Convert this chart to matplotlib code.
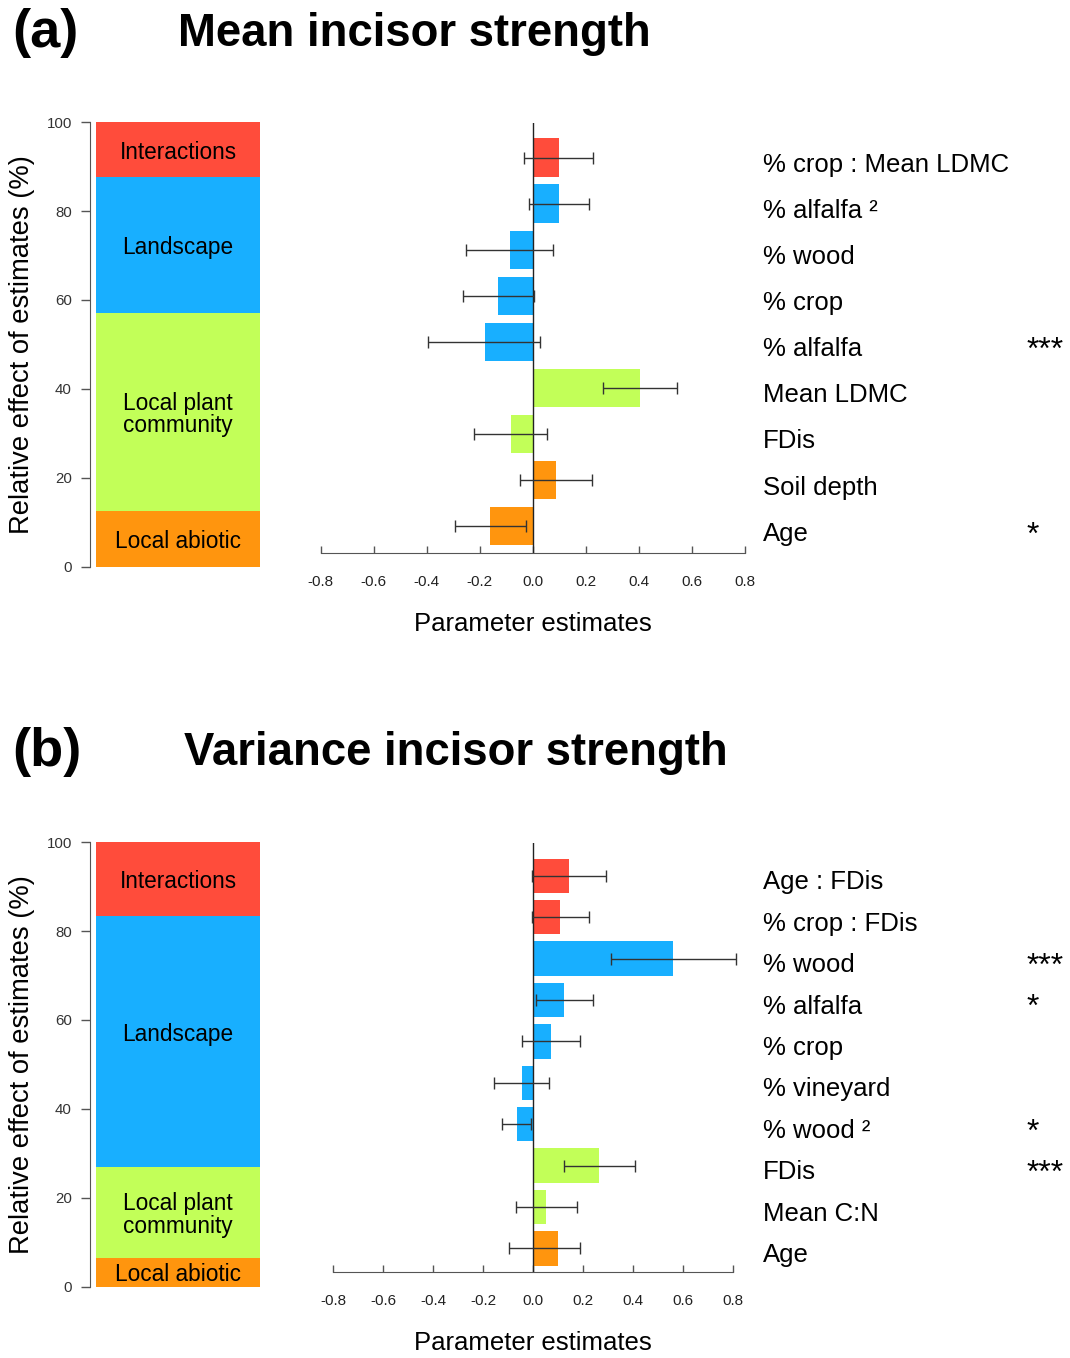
import matplotlib
matplotlib.use("Agg")
import matplotlib.pyplot as plt
import matplotlib.transforms as mtransforms
import numpy as np

plt.rcParams["font.family"] = ["Liberation Sans", "DejaVu Sans"]

W, H = 1070, 1358

# group colours
group_colors = {
    "Interactions": "#FF4C3B",
    "Landscape": "#18AFFF",
    "Local plant community": "#C2FF58",
    "Local abiotic": "#FF950E",
}
group_order = ["Local abiotic", "Local plant community", "Landscape", "Interactions"]
group_text = {
    "Interactions": "Interactions",
    "Landscape": "Landscape",
    "Local plant community": "Local plant\ncommunity",
    "Local abiotic": "Local abiotic",
}

# ---- panel (a): mean incisor strength (listed top to bottom) ----
a_share = [12.6, 44.4, 30.7, 12.3]  # abiotic, plant, landscape, interactions (%)
a_terms = ["% crop : Mean LDMC", "% alfalfa ²", "% wood", "% crop", "% alfalfa",
           "Mean LDMC", "FDis", "Soil depth", "Age"]
a_groups = ["Interactions", "Landscape", "Landscape", "Landscape", "Landscape",
            "Local plant community", "Local plant community",
            "Local abiotic", "Local abiotic"]
a_est = [0.097, 0.097, -0.088, -0.131, -0.182, 0.402, -0.083, 0.088, -0.161]
a_lo = [-0.035, -0.014, -0.251, -0.265, -0.394, 0.263, -0.222, -0.048, -0.295]
a_hi = [0.225, 0.211, 0.074, 0.005, 0.025, 0.543, 0.053, 0.222, -0.028]
a_sig = ["", "", "", "", "***", "", "", "", "*"]

# ---- panel (b): variance incisor strength ----
b_share = [6.4, 20.6, 56.5, 16.5]
b_terms = ["Age : FDis", "% crop : FDis", "% wood", "% alfalfa", "% crop",
           "% vineyard", "% wood ²", "FDis", "Mean C:N", "Age"]
b_groups = ["Interactions", "Interactions", "Landscape", "Landscape", "Landscape",
            "Landscape", "Landscape", "Local plant community",
            "Local plant community", "Local abiotic"]
b_est = [0.144, 0.107, 0.560, 0.126, 0.071, -0.043, -0.065, 0.263, 0.052, 0.099]
b_lo = [-0.004, -0.004, 0.311, 0.011, -0.045, -0.155, -0.123, 0.123, -0.067, -0.096]
b_hi = [0.294, 0.226, 0.815, 0.239, 0.188, 0.065, -0.009, 0.407, 0.175, 0.187]
b_sig = ["", "", "***", "*", "", "", "*", "***", "", ""]

x_ticks = [-0.8, -0.6, -0.4, -0.2, 0.0, 0.2, 0.4, 0.6, 0.8]


def box(x0, y0, x1, y1):
    return [x0 / W, 1 - y1 / H, (x1 - x0) / W, (y1 - y0) / H]


fig = plt.figure(figsize=(W / 100, H / 100), dpi=100)


def draw_panel(letter, title, top, share, terms, groups, est, lo, hi, sig,
               x_left, x_right, y_top, y_axis, ylim, label_y=None):
    # titles
    fig.text(12 / W, 1 - top / H, letter, fontsize=39, fontweight="bold",
             va="center", ha="left")
    fig.text((178 if letter == "(a)" else 184) / W, 1 - (top + 1) / H, title,
             fontsize=32.8, fontweight="bold", va="center", ha="left")

    # stacked relative-effect bar
    y0, y1 = y_top - 0.5, y_top + 443.8
    axl = fig.add_axes(box(96, y0, 260, y1))
    bottom = 0
    for g, s in zip(group_order, share):
        axl.bar(0.5, s, bottom=bottom, width=1, color=group_colors[g], linewidth=0)
        ty = bottom + s / 2
        if label_y and g in label_y:
            ty = label_y[g]
        axl.text(0.5, ty - 0.6, group_text[g], ha="center", va="center",
                 fontsize=16.3, linespacing=0.95)
        bottom += s
    axl.set_xlim(0, 1)
    axl.set_ylim(0, 100)
    axl.set_xticks([])
    axl.set_yticks(np.arange(0, 101, 20))
    for sp in ["top", "right", "bottom"]:
        axl.spines[sp].set_visible(False)
    axl.spines["left"].set_position(("outward", 4.3))
    axl.spines["left"].set_color("#555555")
    axl.tick_params(axis="y", direction="out", length=6.5, width=1,
                    color="#555555", labelsize=10.8, labelcolor="#333333", pad=6.5)
    fig.text(22 / W, 1 - (y0 + y1) / 2 / H, "Relative effect of estimates (%)",
             rotation=90, ha="center", va="center", fontsize=19.7)

    # coefficient bars
    n = len(terms)
    pos = np.arange(n)[::-1]
    ax = fig.add_axes(box(x_left, y_top, x_right, y_axis))
    est = np.array(est)
    colors = [group_colors[g] for g in groups]
    ax.barh(pos, est, height=0.83, color=colors, linewidth=0, zorder=2)
    ax.axvline(0, color="#222222", lw=1, zorder=3)
    ax.errorbar(est, pos, xerr=[est - np.array(lo), np.array(hi) - est],
                fmt="none", ecolor="#333333", elinewidth=1, capsize=4.2,
                capthick=1, zorder=4, clip_on=False)
    ax.set_xlim(-0.8, 0.8)
    ax.set_ylim(*ylim)
    ax.set_yticks([])
    ax.set_xticks(x_ticks)
    ax.set_xticklabels([f"{v:.1f}" for v in x_ticks])
    for sp in ["top", "right", "left"]:
        ax.spines[sp].set_visible(False)
    ax.spines["bottom"].set_color("#555555")
    ax.tick_params(axis="x", direction="in", length=5, width=1, color="#555555",
                   labelsize=11, labelcolor="#222222", pad=15.5)
    ax.patch.set_alpha(0)

    trans = mtransforms.blended_transform_factory(fig.transFigure, ax.transData)
    for p, t, s in zip(pos, terms, sig):
        fig.text(763 / W, p - 0.16, t, transform=trans, fontsize=18.5,
                 va="center", ha="left")
        if s:
            fig.text(1027 / W, p - 0.2, s, transform=trans, fontsize=23,
                     va="center", ha="left")

    fig.text(533 / W, 1 - (y_axis + 71) / H, "Parameter estimates",
             fontsize=18.5, ha="center", va="center")


draw_panel("(a)", "Mean incisor strength", 33, a_share, a_terms, a_groups,
           a_est, a_lo, a_hi, a_sig, 320.7, 745.3, 122.7, 553.0, (-0.58, 8.755))
draw_panel("(b)", "Variance incisor strength", 752, b_share, b_terms, b_groups,
           b_est, b_lo, b_hi, b_sig, 333.3, 732.7, 842.7, 1272.3, (-0.575, 9.80),
           label_y={"Landscape": 57.3})

fig.savefig("out.png", dpi=100)
